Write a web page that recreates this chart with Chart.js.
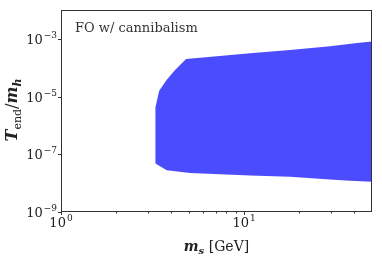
<!DOCTYPE html>
<html>
<head>
<meta charset="utf-8">
<script src="https://cdn.jsdelivr.net/npm/chart.js@4/dist/chart.umd.min.js"></script>
<style>
  html, body { margin: 0; padding: 0; background: #fff; }
  #wrap { width: 382px; height: 259px; }
</style>
</head>
<body>
<div id="wrap"><canvas id="regionChart" width="382" height="259"></canvas></div>
<script>
// Borde superior de la región permitida (m_s en GeV, T_end/m_h)
const upperX = [3.28, 3.44, 3.78, 4.20, 4.82, 10.8, 17.8, 29.5, 41.4, 50];
const upperY = [4.3e-6, 1.6e-5, 3.8e-5, 8.3e-5, 2.0e-4, 3.2e-4, 4.1e-4, 5.5e-4, 7.2e-4, 8.1e-4];

// Borde inferior
const lowerX = [3.28, 3.78, 5.07, 10.8, 17.8, 29.5, 37.9, 50];
const lowerY = [4.8e-8, 2.8e-8, 2.26e-8, 1.85e-8, 1.65e-8, 1.34e-8, 1.2e-8, 1.11e-8];

// Marcas de los ejes
const xMajorTicks = [1, 10];
const xMinorTicks = [2, 3, 4, 5, 6, 7, 8, 9, 20, 30, 40];
const xTickExp = ['0', '1'];
const yMajorTicks = [1e-9, 1e-7, 1e-5, 1e-3];
const yTickExp = ['\u22129', '\u22127', '\u22125', '\u22123'];

const annotationText = 'FO w/ cannibalism';

// Polígono cerrado: borde superior de izquierda a derecha, inferior de vuelta
const polygon = [];
upperX.forEach((x, i) => polygon.push({ x: x, y: upperY[i] }));
for (let i = lowerX.length - 1; i >= 0; i--) {
    polygon.push({ x: lowerX[i], y: lowerY[i] });
}
polygon.push({ x: upperX[0], y: upperY[0] });

const SERIF = '"DejaVu Serif", "Liberation Serif", serif';
const INK = '#222';

// Dibuja "10" con exponente
function drawPow(ctx, exp, x, y, align) {
    ctx.font = '13px ' + SERIF;
    const wBase = ctx.measureText('10').width;
    ctx.font = '9px ' + SERIF;
    const wExp = ctx.measureText(exp).width;
    const total = wBase + wExp + 1;
    let left = x;
    if (align === 'center') left = x - total / 2;
    if (align === 'right') left = x - total;
    ctx.textAlign = 'left';
    ctx.font = '13px ' + SERIF;
    ctx.fillText('10', left, y);
    ctx.font = '9px ' + SERIF;
    ctx.fillText(exp, left + wBase + 1, y - 6);
}

// Dibuja una secuencia de trozos de texto con distintas fuentes
function drawRuns(ctx, runs, cx, y) {
    let total = 0;
    runs.forEach(r => { ctx.font = r.font; total += ctx.measureText(r.text).width; });
    let x = cx - total / 2;
    ctx.textAlign = 'left';
    runs.forEach(r => {
        ctx.font = r.font;
        ctx.fillText(r.text, x, y + (r.dy || 0));
        x += ctx.measureText(r.text).width;
    });
}

const axesPlugin = {
    id: 'axesPlugin',
    afterDraw(chart) {
        const ctx = chart.ctx;
        const area = chart.chartArea;
        const xs = chart.scales.x;
        const ys = chart.scales.y;
        ctx.save();

        // marco
        ctx.strokeStyle = '#333';
        ctx.lineWidth = 1;
        ctx.strokeRect(Math.round(area.left) + 0.5, Math.round(area.top) + 0.5,
            Math.round(area.right - area.left) - 1, Math.round(area.bottom - area.top) - 1);

        const bottom = Math.round(area.bottom) - 0.5;
        const left = Math.round(area.left) + 0.5;

        // marcas eje x
        ctx.beginPath();
        xMajorTicks.forEach(v => {
            const px = Math.round(xs.getPixelForValue(v)) + 0.5;
            ctx.moveTo(px, bottom); ctx.lineTo(px, bottom + 3.5);
        });
        xMinorTicks.forEach(v => {
            const px = Math.round(xs.getPixelForValue(v)) + 0.5;
            ctx.moveTo(px, bottom); ctx.lineTo(px, bottom + 2);
        });
        // marcas eje y
        yMajorTicks.forEach(v => {
            const py = Math.round(ys.getPixelForValue(v)) + 0.5;
            ctx.moveTo(left, py); ctx.lineTo(left - 3.5, py);
        });
        ctx.stroke();

        // etiquetas
        ctx.fillStyle = INK;
        ctx.textBaseline = 'alphabetic';
        xMajorTicks.forEach((v, i) => {
            drawPow(ctx, xTickExp[i], xs.getPixelForValue(v), 227, 'center');
        });
        yMajorTicks.forEach((v, i) => {
            drawPow(ctx, yTickExp[i], 57, ys.getPixelForValue(v) + 5, 'right');
        });

        // título eje x
        const cx = (area.left + area.right) / 2;
        drawRuns(ctx, [
            { text: 'm', font: 'italic bold 14px ' + SERIF },
            { text: 's', font: 'italic bold 10px ' + SERIF, dy: 3 },
            { text: ' [GeV]', font: '14px ' + SERIF }
        ], cx, 251);

        // título eje y
        ctx.save();
        ctx.translate(17, 110);
        ctx.rotate(-Math.PI / 2);
        drawRuns(ctx, [
            { text: 'T', font: 'italic bold 16px ' + SERIF },
            { text: 'end', font: '11px ' + SERIF, dy: 4 },
            { text: '/', font: '16px ' + SERIF },
            { text: 'm', font: 'italic bold 16px ' + SERIF },
            { text: 'h', font: 'italic bold 11px ' + SERIF, dy: 4 }
        ], 0, 0);
        ctx.restore();

        // anotación
        ctx.fillStyle = '#333';
        ctx.font = '13px ' + SERIF;
        ctx.textAlign = 'left';
        ctx.fillText(annotationText, 75, 32);

        ctx.restore();
    }
};

const ctx = document.getElementById('regionChart');
new Chart(ctx, {
    type: 'scatter',
    data: {
        datasets: [{
            label: 'FO w/ cannibalism',
            data: polygon,
            showLine: true,
            fill: 'shape',
            backgroundColor: 'rgba(0, 0, 255, 0.7)',
            borderColor: 'rgba(0, 0, 255, 0.7)',
            borderWidth: 0,
            pointRadius: 0,
            tension: 0
        }]
    },
    options: {
        responsive: false,
        animation: false,
        devicePixelRatio: 1,
        layout: { padding: { top: 10, right: 10, left: 0, bottom: 0 } },
        plugins: {
            legend: { display: false },
            tooltip: { enabled: false }
        },
        scales: {
            x: {
                type: 'logarithmic',
                min: 1,
                max: 50,
                grid: { display: false },
                border: { display: false },
                ticks: { display: false },
                afterFit(scale) { scale.height = 47; }
            },
            y: {
                type: 'logarithmic',
                min: 1e-9,
                max: 1e-2,
                grid: { display: false },
                border: { display: false },
                ticks: { display: false },
                afterFit(scale) { scale.width = 61; }
            }
        }
    },
    plugins: [axesPlugin]
});
</script>
</body>
</html>
